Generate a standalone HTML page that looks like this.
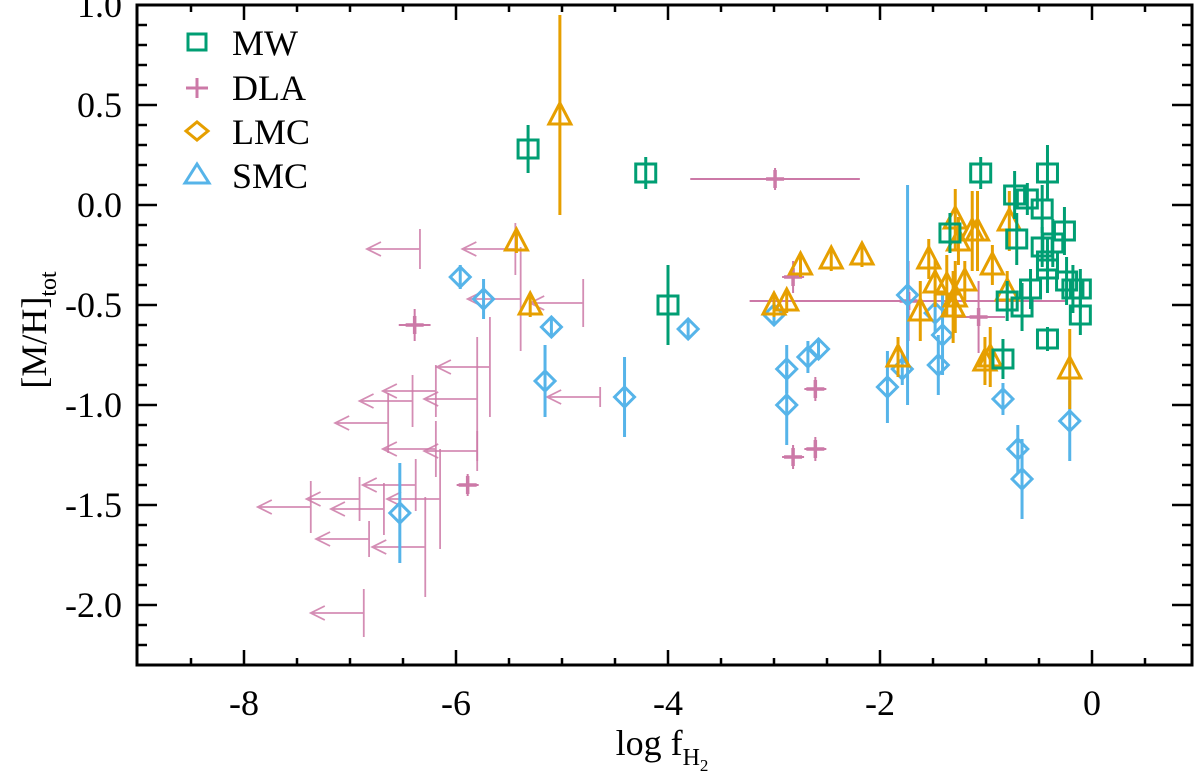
<!DOCTYPE html>
<html><head><meta charset="utf-8">
<style>
body{margin:0;background:#fff;}
svg{display:block;font-family:"Liberation Serif",serif;}
</style></head>
<body>
<svg id="chart" width="1200" height="780" viewBox="0 0 1200 780" xmlns="http://www.w3.org/2000/svg">
<g id="marks"></g>
<g id="axes"></g>
<g>
  <rect x="188" y="34" width="18" height="16" fill="none" stroke="#009e73" stroke-width="3"/>
  <text x="232" y="55" font-size="36">MW</text>
  <path d="M186 88 H208 M197 78 V98" stroke="#cc79a7" stroke-width="3"/>
  <text x="232" y="100" font-size="36">DLA</text>
  <path d="M186 131 L197 122 L208 131 L197 140 Z" fill="none" stroke="#e69f00" stroke-width="3"/>
  <text x="232" y="144" font-size="36">LMC</text>
  <path d="M185 183 L197 164 L209 183 Z" fill="none" stroke="#56b4e9" stroke-width="3"/>
  <text x="232" y="188" font-size="36">SMC</text>
</g>
<text x="662" y="755" font-size="36" text-anchor="middle">log f<tspan font-size="24" dy="10">H</tspan><tspan font-size="17" dy="6">2</tspan></text>
<text transform="translate(46,330) rotate(-90)" font-size="36" text-anchor="middle">[M/H]<tspan font-size="24" dy="10">tot</tspan></text>
</svg>
<script>
const mwX=[-5.32,-4.21,-4.00,-1.05,-0.73,-0.61,-0.42,-0.47,-1.34,-0.71,-0.26,-0.37,-0.47,-0.42,-0.42,-0.58,-0.24,-0.18,-0.11,-0.80,-0.66,-0.11,-0.42,-0.84];
const mwY=[0.28,0.16,-0.50,0.16,0.05,0.03,0.16,-0.02,-0.14,-0.17,-0.13,-0.19,-0.21,-0.28,-0.32,-0.42,-0.38,-0.42,-0.42,-0.48,-0.51,-0.55,-0.67,-0.77];
const mwE=[0.12,0.08,0.2,0.08,0.12,0.08,0.14,0.12,0.1,0.13,0.12,0.12,0.1,0.12,0.12,0.1,0.12,0.12,0.1,0.1,0.12,0.1,0.06,0.1];
const lmcX=[-5.30,-5.43,-5.02,-3.00,-2.88,-2.75,-2.46,-2.17,-1.54,-1.29,-1.26,-1.13,-1.08,-0.78,-0.94,-1.48,-1.37,-1.20,-1.29,-1.31,-1.62,-0.80,-1.83,-1.01,-0.96,-0.21];
const lmcY=[-0.50,-0.18,0.45,-0.50,-0.48,-0.30,-0.27,-0.25,-0.27,-0.07,-0.18,-0.13,-0.13,-0.08,-0.30,-0.39,-0.40,-0.38,-0.46,-0.51,-0.53,-0.43,-0.76,-0.78,-0.76,-0.82];
const lmcE=[0.06,0.06,0.5,0.06,0.06,0.06,0.06,0.06,0.1,0.15,0.12,0.2,0.2,0.15,0.1,0.12,0.15,0.1,0.18,0.18,0.15,0.1,0.1,0.12,0.15,0.2];
const smcX=[-5.96,-5.74,-5.10,-5.16,-4.41,-3.81,-6.53,-3.00,-2.88,-2.88,-2.68,-2.58,-1.74,-1.93,-1.79,-1.48,-1.41,-1.45,-0.84,-0.70,-0.66,-0.21];
const smcY=[-0.36,-0.47,-0.61,-0.88,-0.96,-0.62,-1.54,-0.55,-0.82,-1.00,-0.76,-0.72,-0.45,-0.91,-0.82,-0.54,-0.65,-0.80,-0.97,-1.22,-1.37,-1.08];
const smcE=[0.06,0.1,0.05,0.18,0.2,0.05,0.25,0.05,0.12,0.2,0.08,0.05,0.55,0.18,0.08,0.1,0.2,0.15,0.08,0.12,0.2,0.2];
const dlaX=[-6.39,-5.89,-2.99,-2.82,-2.82,-2.61,-2.61,-1.07,-1.73];
const dlaY=[-0.60,-1.40,0.13,-0.36,-1.26,-1.22,-0.92,-0.56,-0.48];
const dlaXE=[0.15,0.08,0.8,0.1,0.1,0.1,0.08,0.25,1.5];
const dlaYE=[0.08,0.04,0.03,0.08,0.06,0.06,0.06,0.18,0.2];
const limX=[-6.34,-5.44,-5.39,-5.68,-5.80,-5.80,-6.19,-6.19,-6.41,-6.64,-6.38,-7.37,-6.91,-6.68,-6.15,-6.82,-6.29,-6.87,-4.64,-4.80];
const limY=[-0.22,-0.22,-0.47,-0.81,-0.97,-1.23,-0.93,-1.22,-0.98,-1.09,-1.40,-1.51,-1.47,-1.52,-1.47,-1.67,-1.71,-2.04,-0.96,-0.49];
const limE=[0.10,0.13,0.26,0.25,0.31,0.10,0.13,0.14,0.13,0.15,0.13,0.13,0.11,0.13,0.25,0.09,0.25,0.12,0.05,0.12];
const xTicks=[-8,-6,-4,-2,0];
const yTicks=[1.0,0.5,0.0,-0.5,-1.0,-1.5,-2.0];

const L=137,R=1192,T=5,B=665;
const xs=v=>1092+106*v;
const ys=v=>205-200*v;
const NS="http://www.w3.org/2000/svg";
const marks=document.getElementById('marks'),axes=document.getElementById('axes');
function mk(tag,attrs,parent){const e=document.createElementNS(NS,tag);for(const k in attrs)e.setAttribute(k,attrs[k]);parent.appendChild(e);return e;}

const DLA='#cc79a7';
limX.forEach((x,i)=>{
  const g=mk('g',{},marks);
  
  
  const px=xs(x),py=ys(limY[i]),ax=xs(x-0.5),h=limE[i]*200;
  mk('path',{d:`M${px} ${py-h} V${py+h} M${px} ${py} H${ax} M${ax+14} ${py-7} L${ax} ${py} L${ax+14} ${py+7}`,stroke:DLA,'stroke-width':1.8,fill:'none','stroke-opacity':0.85},g);
});
dlaX.forEach((x,i)=>{
  const g=mk('g',{},marks);
  
  
  const px=xs(x),py=ys(dlaY[i]);
  const ex=Math.max(dlaXE[i]*106,11),ey=Math.max(dlaYE[i]*200,11);
  mk('path',{d:`M${px-ex} ${py} H${px+ex} M${px} ${py-ey} V${py+ey}`,stroke:DLA,'stroke-width':2,fill:'none'},g);
  mk('path',{d:`M${px-9} ${py} H${px+9} M${px} ${py-9} V${py+9}`,stroke:DLA,'stroke-width':3.5},g);
});
function series(X,Y,E,color,name,shape){
  X.forEach((x,i)=>{
    const g=mk('g',{},marks);
    
    
    const px=xs(x),py=ys(Y[i]),h=E[i]*200;
    mk('path',{d:`M${px} ${py-h} V${py+h}`,stroke:color,'stroke-width':3},g);
    let d;
    if(shape==='sq') d=`M${px-10} ${py-9} H${px+10} V${py+9} H${px-10} Z`;
    else if(shape==='tri') d=`M${px-11} ${py+9} L${px} ${py-12} L${px+11} ${py+9} Z`;
    else d=`M${px-10} ${py} L${px} ${py-10} L${px+10} ${py} L${px} ${py+10} Z`;
    mk('path',{d:d,stroke:color,'stroke-width':3,fill:'none'},g);
  });
}
series(smcX,smcY,smcE,'#56b4e9','smc-point','dia');
series(lmcX,lmcY,lmcE,'#e69f00','lmc-point','tri');
series(mwX,mwY,mwE,'#009e73','mw-point','sq');

const fr=mk('rect',{x:L,y:T,width:R-L,height:B-T,fill:'none',stroke:'#000','stroke-width':3},axes);


for(let k=-18;k<=2;k++){
  const v=k/2,px=xs(v); if(px<L+2||px>R-2) continue;
  const major=k%4===0, len=major?15:7;
  mk('path',{d:`M${px} ${B} V${B-len} M${px} ${T} V${T+len}`,stroke:'#000','stroke-width':2.5},axes);
}
for(let k=-23;k<=10;k++){
  const v=k/10,py=ys(v); if(py<T+2||py>B-2) continue;
  const major=k%5===0,len=major?20:10;
  mk('path',{d:`M${L} ${py} H${L+len} M${R} ${py} H${R-len}`,stroke:'#000','stroke-width':2.5},axes);
}
xTicks.forEach(v=>{
  const t=mk('text',{x:xs(v),y:715,'font-size':36,'text-anchor':'middle'},axes);
  t.textContent=String(v);
  
  
});
yTicks.forEach(v=>{
  const t=mk('text',{x:122,y:ys(v)+12,'font-size':36,'text-anchor':'end'},axes);
  t.textContent=v.toFixed(1);
  
  
});
</script>
</body></html>
